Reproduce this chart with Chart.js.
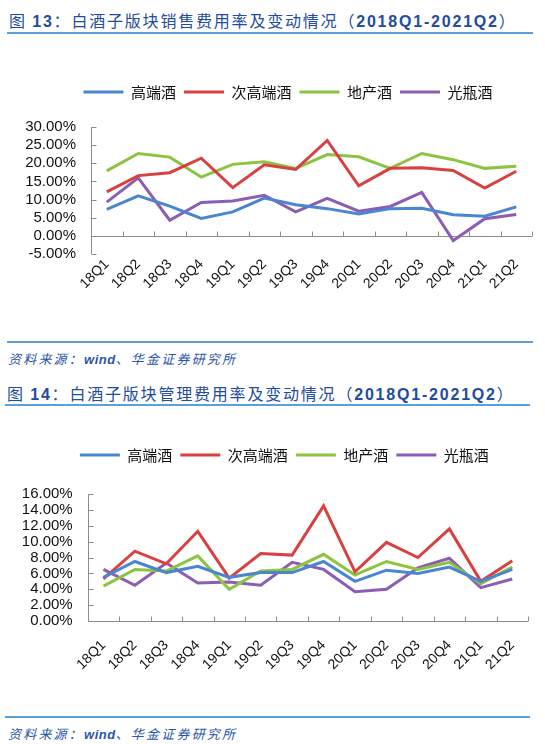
<!DOCTYPE html>
<html lang="zh">
<head>
    <meta charset="UTF-8">
    <title>白酒子版块费用率</title>
    <script src="https://cdn.jsdelivr.net/npm/chart.js"></script>
    <style>
        body, html {
            margin: 0;
            padding: 0;
            width: 545px;
            height: 744px;
            overflow: hidden;
            background: #fff;
            position: relative;
        }
        .title {
            position: absolute;
            left: 9px;
            height: 20px;
            line-height: 20px;
            font-family: "Noto Sans CJK SC", sans-serif;
            font-size: 16px;
            letter-spacing: 1.8px;
            color: #224c9e;
            white-space: nowrap;
        }
        .title b {
            font-family: "Liberation Sans", Arial, sans-serif;
        }
        .source {
            position: absolute;
            left: 8px;
            height: 16px;
            line-height: 16px;
            font-family: "Noto Sans CJK SC", sans-serif;
            font-size: 13px;
            font-style: italic;
            letter-spacing: 2.2px;
            color: #2b55a8;
            white-space: nowrap;
        }
        .source b {
            font-family: "Liberation Sans", Arial, sans-serif;
            letter-spacing: 0.5px;
        }
        .rule {
            position: absolute;
            height: 1.5px;
            background: #5aa0dc;
        }
        .box {
            position: absolute;
            left: 0;
            width: 545px;
        }
    </style>
</head>
<body>
    <div class="title" style="top:10px">图 <b>13</b>：白酒子版块销售费用率及变动情况（<b>2018Q1-2021Q2</b>）</div>
    <div class="rule" style="top:32px; left:7px; width:526px"></div>
    <div class="box" style="top:40px; height:254px"><canvas id="salesChart"></canvas></div>
    <div class="rule" style="top:341px; left:7px; width:526px"></div>
    <div class="source" style="top:351px">资料来源：<b>wind</b>、华金证券研究所</div>

    <div class="title" style="top:383px; left:7px">图 <b>14</b>：白酒子版块管理费用率及变动情况（<b>2018Q1-2021Q2</b>）</div>
    <div class="rule" style="top:404px; left:5px; width:525px"></div>
    <div class="box" style="top:410px; height:266px"><canvas id="adminChart"></canvas></div>
    <div class="rule" style="top:716px; left:5px; width:525px"></div>
    <div class="source" style="top:726px">资料来源：<b>wind</b>、华金证券研究所</div>

    <script>
        const quarters = ['18Q1', '18Q2', '18Q3', '18Q4', '19Q1', '19Q2', '19Q3', '19Q4',
                          '20Q1', '20Q2', '20Q3', '20Q4', '21Q1', '21Q2'];
        const seriesNames = ['高端酒', '次高端酒', '地产酒', '光瓶酒'];
        const seriesColors = ['#4a86d0', '#d94141', '#8cc43f', '#8c5db5'];

        // 销售费用率 (%)
        const salesHigh    = [7.3, 11.0, 8.2, 4.8, 6.6, 10.4, 8.6, 7.5, 6.0, 7.5, 7.6, 5.8, 5.4, 8.0];
        const salesSubHigh = [12.1, 16.6, 17.4, 21.4, 13.3, 19.6, 18.3, 26.3, 13.8, 18.6, 18.8, 18.0, 13.2, 17.8];
        const salesLocal   = [17.9, 22.7, 21.7, 16.2, 19.7, 20.4, 18.6, 22.4, 21.8, 18.6, 22.7, 21.0, 18.6, 19.2];
        const salesBottle  = [9.3, 16.0, 4.3, 9.2, 9.6, 11.2, 6.6, 10.3, 6.8, 8.1, 12.0, -1.3, 4.7, 5.9];
        const salesTicks   = [-5, 0, 5, 10, 15, 20, 25, 30];

        // 管理费用率 (%)
        const adminHigh    = [5.5, 7.5, 6.1, 6.9, 5.5, 6.1, 6.1, 7.5, 5.0, 6.4, 6.0, 6.8, 5.0, 6.5];
        const adminSubHigh = [5.3, 8.8, 7.2, 11.3, 5.4, 8.5, 8.3, 14.5, 6.2, 9.9, 8.0, 11.6, 5.0, 7.6];
        const adminLocal   = [4.4, 6.5, 6.3, 8.2, 4.0, 6.3, 6.5, 8.4, 5.8, 7.5, 6.5, 7.4, 4.7, 6.8];
        const adminBottle  = [6.5, 4.5, 7.3, 4.8, 4.9, 4.5, 7.4, 6.5, 3.7, 4.0, 6.7, 7.9, 4.2, 5.3];
        const adminTicks   = [0, 2, 4, 6, 8, 10, 12, 14, 16];

        const tickFont = { family: '"Liberation Sans", Arial, sans-serif', size: 15 };
        const labelFont = { family: '"Liberation Sans", Arial, sans-serif', size: 14 };

        // axis lines with short inward ticks, x axis drawn at the zero value
        const axisLines = {
            id: 'axisLines',
            beforeDatasetsDraw(chart) {
                const { ctx, chartArea, scales: { x, y } } = chart;
                const left = Math.round(chartArea.left) + 0.5;
                const zero = Math.round(y.getPixelForValue(0)) + 0.5;
                ctx.save();
                ctx.strokeStyle = '#8c8c8c';
                ctx.lineWidth = 1;
                ctx.beginPath();
                ctx.moveTo(left, chartArea.top);
                ctx.lineTo(left, chartArea.bottom);
                y.ticks.forEach(t => {
                    const py = Math.round(y.getPixelForValue(t.value)) + 0.5;
                    ctx.moveTo(left, py);
                    ctx.lineTo(left + 5, py);
                });
                ctx.moveTo(left, zero);
                ctx.lineTo(chartArea.right, zero);
                for (let i = 0; i <= x.ticks.length; i++) {
                    const px = Math.round(x.getPixelForValue(i - 0.5)) + 0.5;
                    ctx.moveTo(px, zero);
                    ctx.lineTo(px, zero - 5);
                }
                ctx.stroke();
                ctx.restore();
            }
        };

        // extra room under the legend, and a sideways nudge of the legend
        function legendTweak(extra, dx) {
            return {
                id: 'legendTweak',
                beforeInit(chart) {
                    const fit = chart.legend.fit;
                    chart.legend.fit = function () {
                        fit.bind(chart.legend)();
                        this.height += extra;
                    };
                },
                afterLayout(chart) {
                    chart.legend.left += dx;
                    chart.legend.right += dx;
                }
            };
        }

        function makeChart(id, series, ticks, opt) {
            const ctx = document.getElementById(id).getContext('2d');
            return new Chart(ctx, {
                type: 'line',
                data: {
                    labels: quarters,
                    datasets: series.map((data, i) => ({
                        label: seriesNames[i],
                        data: data,
                        borderColor: seriesColors[i],
                        backgroundColor: seriesColors[i],
                        borderWidth: 3,
                        pointRadius: 0,
                        tension: 0,
                        pointStyle: 'line'
                    }))
                },
                options: {
                    responsive: true,
                    maintainAspectRatio: false,
                    animation: false,
                    layout: {
                        padding: { left: opt.padLeft, right: opt.padRight, top: opt.padTop, bottom: 0 }
                    },
                    scales: {
                        x: {
                            offset: true,
                            grid: { display: false, drawTicks: false },
                            border: { display: false },
                            ticks: {
                                font: labelFont,
                                color: '#111',
                                maxRotation: 45,
                                minRotation: 45,
                                autoSkip: false,
                                padding: opt.labelPad
                            },
                            afterFit: s => { s.height = opt.xHeight; }
                        },
                        y: {
                            min: ticks[0],
                            max: ticks[ticks.length - 1],
                            grid: { display: false, drawTicks: false },
                            border: { display: false },
                            afterBuildTicks: s => { s.ticks = ticks.map(v => ({ value: v })); },
                            ticks: {
                                font: tickFont,
                                color: '#111',
                                padding: 15,
                                autoSkip: false,
                                callback: v => v.toFixed(2) + '%'
                            },
                            afterFit: s => { s.width = 70; }
                        }
                    },
                    plugins: {
                        legend: {
                            labels: {
                                usePointStyle: true,
                                pointStyle: 'line',
                                pointStyleWidth: 40,
                                padding: 8,
                                color: '#111',
                                font: { family: '"Noto Sans CJK SC", sans-serif', size: 15 }
                            }
                        },
                        tooltip: { enabled: false }
                    }
                },
                plugins: [axisLines, legendTweak(opt.legendGap, opt.legendDx)]
            });
        }

        makeChart('salesChart', [salesHigh, salesSubHigh, salesLocal, salesBottle], salesTicks, {
            padLeft: 21, padRight: 13, padTop: 36.5, xHeight: 40, labelPad: 2, legendGap: 17.5, legendDx: 11.5
        });

        makeChart('adminChart', [adminHigh, adminSubHigh, adminLocal, adminBottle], adminTicks, {
            padLeft: 17.7, padRight: 17, padTop: 29.5, xHeight: 55, labelPad: 16, legendGap: 21.5, legendDx: 11.5
        });
    </script>
</body>
</html>
